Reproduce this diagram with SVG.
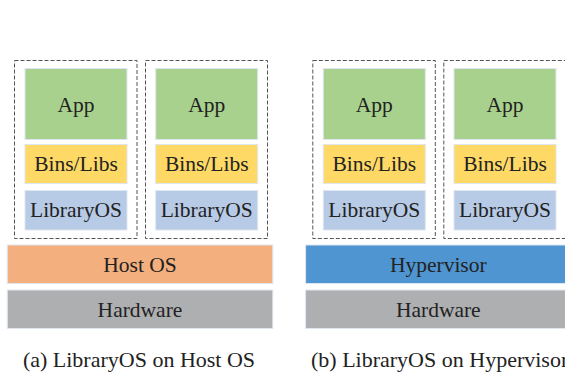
<svg xmlns="http://www.w3.org/2000/svg" width="565" height="377" viewBox="0 0 565 377">
<style>
.lbl{font-family:"Liberation Serif","Times New Roman",serif;font-size:21.5px;fill:#222;text-anchor:middle}
.cap{font-family:"Liberation Serif","Times New Roman",serif;font-size:22px;fill:#222}
.blk{stroke:#dfe6f0;stroke-width:1}
.app{fill:#A9D18E}
.bins{fill:#FFD966}
.los{fill:#B7CAE6}
.host{fill:#F4AF7E}
.hyp{fill:#4F95D1}
.hw{fill:#AEAFB1}
.dash{fill:none;stroke:#555;stroke-width:1;stroke-dasharray:4 2}
</style>
<rect width="565" height="377" fill="#fff"/>

<!-- Left: LibraryOS on Host OS -->
<g id="container-a1">
<rect class="dash" x="14.5" y="60.5" width="122.5" height="178"/>
<g id="app-a1"><rect class="blk app" x="25" y="68.5" width="102" height="71"/><text class="lbl" x="76" y="111.5">App</text></g>
<g id="bins-a1"><rect class="blk bins" x="25" y="144.5" width="102" height="39"/><text class="lbl" x="76" y="171">Bins/Libs</text></g>
<g id="los-a1"><rect class="blk los" x="25" y="190.5" width="102" height="39.5"/><text class="lbl" x="76" y="217">LibraryOS</text></g>
</g>
<g id="container-a2">
<rect class="dash" x="145.5" y="60.5" width="122" height="178"/>
<g id="app-a2"><rect class="blk app" x="155.7" y="68.5" width="102" height="71"/><text class="lbl" x="206.7" y="111.5">App</text></g>
<g id="bins-a2"><rect class="blk bins" x="155.7" y="144.5" width="102" height="39"/><text class="lbl" x="206.7" y="171">Bins/Libs</text></g>
<g id="los-a2"><rect class="blk los" x="155.7" y="190.5" width="102" height="39.5"/><text class="lbl" x="206.7" y="217">LibraryOS</text></g>
</g>
<g id="hostos"><rect class="blk host" x="7.3" y="245" width="265.5" height="38.5"/><text class="lbl" x="140" y="271.5">Host OS</text></g>
<g id="hardware-a"><rect class="blk hw" x="7.3" y="290" width="265.5" height="38.5"/><text class="lbl" x="140" y="316.5">Hardware</text></g>
<text class="cap" x="139" y="366.5" text-anchor="middle">(a) LibraryOS on Host OS</text>

<!-- Right: LibraryOS on Hypervisor -->
<g id="container-b1">
<rect class="dash" x="312.8" y="60.5" width="122.5" height="178"/>
<g id="app-b1"><rect class="blk app" x="323.3" y="68.5" width="102" height="71"/><text class="lbl" x="374.3" y="111.5">App</text></g>
<g id="bins-b1"><rect class="blk bins" x="323.3" y="144.5" width="102" height="39"/><text class="lbl" x="374.3" y="171">Bins/Libs</text></g>
<g id="los-b1"><rect class="blk los" x="323.3" y="190.5" width="102" height="39.5"/><text class="lbl" x="374.3" y="217">LibraryOS</text></g>
</g>
<g id="container-b2">
<rect class="dash" x="443.8" y="60.5" width="122" height="178"/>
<g id="app-b2"><rect class="blk app" x="454" y="68.5" width="102" height="71"/><text class="lbl" x="505" y="111.5">App</text></g>
<g id="bins-b2"><rect class="blk bins" x="454" y="144.5" width="102" height="39"/><text class="lbl" x="505" y="171">Bins/Libs</text></g>
<g id="los-b2"><rect class="blk los" x="454" y="190.5" width="102" height="39.5"/><text class="lbl" x="505" y="217">LibraryOS</text></g>
</g>
<g id="hypervisor"><rect class="blk hyp" x="305.6" y="245" width="265.5" height="38.5"/><text class="lbl" x="438.3" y="271.5">Hypervisor</text></g>
<g id="hardware-b"><rect class="blk hw" x="305.6" y="290" width="265.5" height="38.5"/><text class="lbl" x="438.3" y="316.5">Hardware</text></g>
<text class="cap" x="311" y="366.5">(b) LibraryOS on Hypervisor</text>

<g id="connectors"/>
</svg>
